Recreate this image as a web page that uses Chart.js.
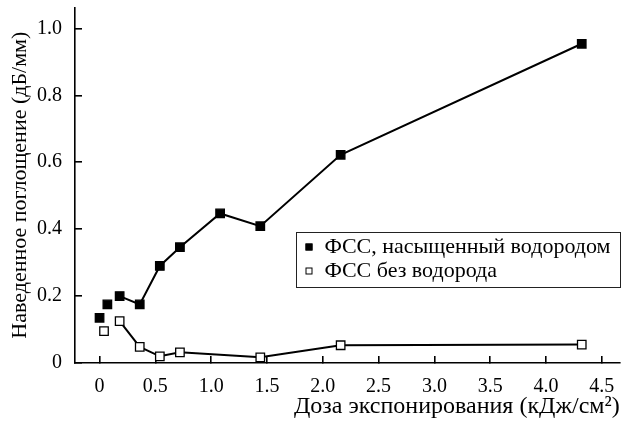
<!DOCTYPE html>
<html>
<head>
<meta charset="utf-8">
<title>Наведенное поглощение</title>
<script src="https://cdn.jsdelivr.net/npm/chart.js@4.4.1/dist/chart.umd.min.js"></script>
<style>
  html, body { margin: 0; padding: 0; background: #fff; }
  #wrap { width: 627px; height: 421px; }
</style>
</head>
<body>
<div id="wrap"><canvas id="absChart" width="627" height="421"></canvas></div>
<script>
// dose, kJ/cm^2
const doseH2 = [0, 0.07, 0.18, 0.36, 0.54, 0.72, 1.08, 1.44, 2.16, 4.32];
const lossH2 = [0.135, 0.175, 0.200, 0.175, 0.290, 0.346, 0.447, 0.409, 0.622, 0.954];

const doseNoH2 = [0.04, 0.18, 0.36, 0.54, 0.72, 1.44, 2.16, 4.32];
const lossNoH2 = [0.095, 0.125, 0.048, 0.020, 0.032, 0.017, 0.053, 0.055];

const seriesNames = ['ФСС, насыщенный водородом', 'ФСС без водорода'];
// the first points of each series are measured separately and not joined
const looseStart = [2, 1];

const xTicks = [0, 0.5, 1.0, 1.5, 2.0, 2.5, 3.0, 3.5, 4.0, 4.5];
const yTicks = [0, 0.2, 0.4, 0.6, 0.8, 1.0];

const FONT = '"Liberation Serif", "Times New Roman", serif';
Chart.defaults.font.family = FONT;
Chart.defaults.font.size = 20;
Chart.defaults.color = '#000';

const toPoints = (xs, ys) => xs.map((x, i) => ({ x: x, y: ys[i] }));
const tickText = v => v === 0 ? '0' : v.toFixed(1);

// framed legend sitting inside the plot, right side
const boxLegend = {
  id: 'boxLegend',
  afterDatasetsDraw(chart) {
    const ctx = chart.ctx;
    const area = chart.chartArea;
    ctx.save();
    ctx.font = '22px ' + FONT;
    const widest = Math.max(...chart.data.datasets.map(d => ctx.measureText(d.label).width));
    const w = Math.round(widest + 38), h = 55;
    const left = Math.round(area.right - w) + 0.5;
    const top = 232.5;
    ctx.fillStyle = '#fff';
    ctx.fillRect(left, top, w, h);
    ctx.strokeStyle = '#222';
    ctx.lineWidth = 1;
    ctx.strokeRect(left, top, w, h);
    chart.data.datasets.forEach((d, i) => {
      const cy = Math.round(top + 14 + i * 24.5);
      ctx.fillStyle = d.pointBackgroundColor;
      ctx.fillRect(left + 9, cy - 3.5, 7, 7);
      ctx.strokeStyle = '#000';
      ctx.strokeRect(left + 9.5, cy - 3, 6, 6);
      ctx.fillStyle = '#000';
      ctx.textBaseline = 'middle';
      ctx.textAlign = 'left';
      ctx.fillText(d.label, left + 28, cy);
    });
    ctx.restore();
  }
};

const lineSet = (i, xs, ys, fill) => ({
  label: seriesNames[i],
  data: toPoints(xs, ys),
  showLine: true,
  borderColor: '#000',
  borderWidth: 2,
  pointStyle: 'rect',
  pointRadius: 6,
  pointHoverRadius: 6,
  pointBackgroundColor: fill,
  pointBorderColor: '#000',
  pointBorderWidth: 1.3,
  segment: {
    borderColor: c => c.p0DataIndex < looseStart[i] ? 'rgba(0,0,0,0)' : '#000'
  }
});

new Chart(document.getElementById('absChart'), {
  type: 'scatter',
  data: {
    datasets: [
      lineSet(0, doseH2, lossH2, '#000'),
      lineSet(1, doseNoH2, lossNoH2, '#fff')
    ]
  },
  plugins: [boxLegend],
  options: {
    responsive: false,
    animation: false,
    layout: { padding: { top: 7, right: 4, left: 0, bottom: 0 } },
    plugins: { legend: { display: false }, tooltip: { enabled: false } },
    scales: {
      x: {
        type: 'linear',
        min: -0.22,
        max: 4.66,
        border: { color: '#000', width: 1.6 },
        grid: { drawOnChartArea: false, tickLength: -7, color: '#000', lineWidth: 1.6 },
        ticks: { padding: 19, autoSkip: false, maxRotation: 0, callback: tickText,
                 font: { family: FONT, size: 20 } },
        afterBuildTicks: s => { s.ticks = xTicks.map(v => ({ value: v })); },
        afterFit: s => { s.height = 58; s.paddingLeft = 0; s.paddingRight = 0; },
        title: {
          display: true,
          text: 'Доза экспонирования (кДж/см²)',
          align: 'end',
          font: { family: FONT, size: 24 },
          padding: { top: 0, bottom: 0 }
        }
      },
      y: {
        min: 0,
        max: 1.063,
        border: { color: '#000', width: 1.6 },
        grid: { drawOnChartArea: false, tickLength: -7, color: '#000', lineWidth: 1.6 },
        ticks: { padding: 20, autoSkip: false, callback: tickText,
                 font: { family: FONT, size: 20 } },
        afterBuildTicks: s => { s.ticks = yTicks.map(v => ({ value: v })); },
        afterFit: s => { s.width = 75; s.paddingTop = 0; s.paddingBottom = 0; },
        title: {
          display: true,
          text: 'Наведенное поглощение (дБ/мм)',
          font: { family: FONT, size: 22 },
          padding: { top: 7, bottom: 0 }
        }
      }
    }
  }
});
</script>
</body>
</html>
